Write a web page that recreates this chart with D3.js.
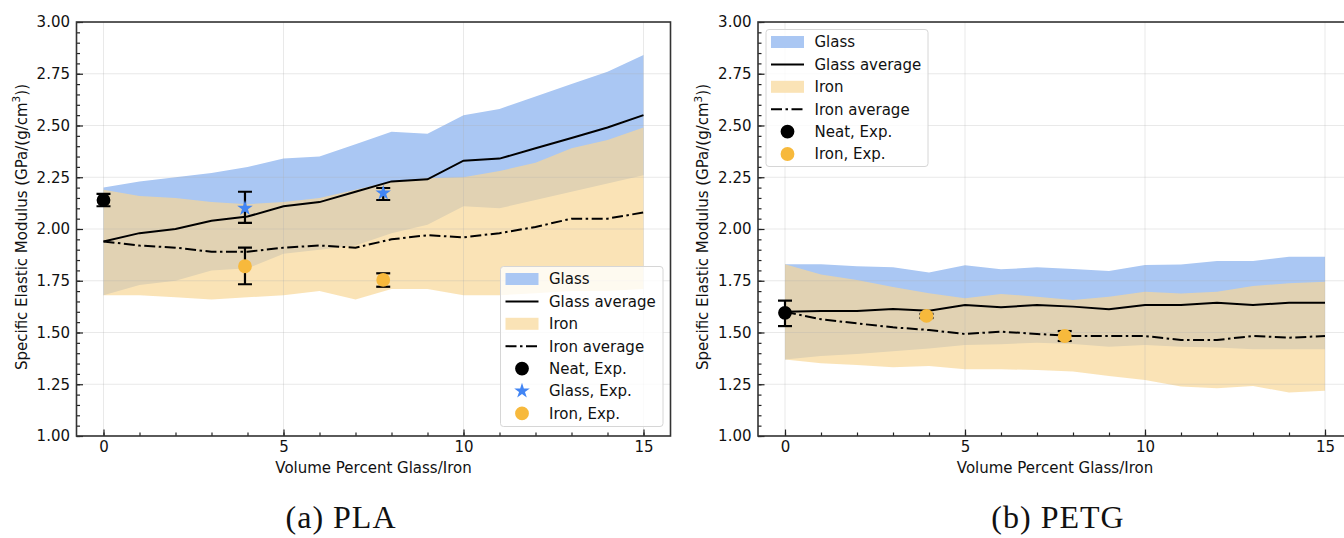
<!DOCTYPE html>
<html>
<head>
<meta charset="utf-8">
<script src="https://cdn.jsdelivr.net/npm/d3@7"></script>
<style>
  body { margin: 0; background: #fff; }
  text { font-family: "DejaVu Sans", sans-serif; fill: #111; }
</style>
</head>
<body>
<svg id="chart" width="1344" height="538"></svg>
<script>
// ---- data: specific elastic modulus, GPa/(g/cm^3) ----
const volumePct = [0, 1, 2, 3, 4, 5, 6, 7, 8, 9, 10, 11, 12, 13, 14, 15];

// PLA
const plaGlassUpper = [2.20, 2.23, 2.25, 2.27, 2.30, 2.34, 2.35, 2.41, 2.47, 2.46, 2.55, 2.58, 2.64, 2.70, 2.76, 2.84];
const plaGlassLower = [1.68, 1.73, 1.75, 1.80, 1.81, 1.88, 1.90, 1.92, 1.98, 2.02, 2.11, 2.10, 2.14, 2.18, 2.22, 2.26];
const plaGlassAvg   = [1.94, 1.98, 2.00, 2.04, 2.06, 2.11, 2.13, 2.18, 2.23, 2.24, 2.33, 2.34, 2.39, 2.44, 2.49, 2.55];
const plaIronUpper  = [2.19, 2.16, 2.15, 2.13, 2.12, 2.13, 2.15, 2.19, 2.23, 2.245, 2.25, 2.28, 2.32, 2.39, 2.43, 2.49];
const plaIronLower  = [1.68, 1.68, 1.67, 1.66, 1.67, 1.68, 1.70, 1.66, 1.71, 1.71, 1.68, 1.68, 1.69, 1.70, 1.70, 1.71];
const plaIronAvg    = [1.94, 1.92, 1.91, 1.89, 1.89, 1.91, 1.92, 1.91, 1.95, 1.97, 1.96, 1.98, 2.01, 2.05, 2.05, 2.08];

// PETG
const petgGlassUpper = [1.83, 1.83, 1.82, 1.815, 1.79, 1.825, 1.805, 1.815, 1.807, 1.797, 1.826, 1.829, 1.845, 1.845, 1.866, 1.866];
const petgGlassLower = [1.37, 1.386, 1.396, 1.41, 1.423, 1.44, 1.443, 1.451, 1.444, 1.431, 1.44, 1.431, 1.428, 1.419, 1.419, 1.419];
const petgGlassAvg   = [1.60, 1.604, 1.604, 1.614, 1.605, 1.633, 1.622, 1.633, 1.625, 1.612, 1.633, 1.633, 1.644, 1.633, 1.644, 1.644];
const petgIronUpper  = [1.83, 1.78, 1.754, 1.72, 1.69, 1.665, 1.686, 1.673, 1.657, 1.673, 1.697, 1.689, 1.697, 1.725, 1.738, 1.745];
const petgIronLower  = [1.37, 1.351, 1.343, 1.332, 1.338, 1.322, 1.322, 1.319, 1.311, 1.29, 1.271, 1.239, 1.231, 1.242, 1.21, 1.219];
const petgIronAvg    = [1.60, 1.564, 1.544, 1.525, 1.512, 1.493, 1.504, 1.493, 1.483, 1.483, 1.483, 1.464, 1.464, 1.483, 1.475, 1.483];

// experimental measurements (value with lower / upper error bounds)
const plaNeatExp  = { x: [0],          y: [2.14],         lo: [2.11],         hi: [2.17] };
const plaGlassExp = { x: [3.93, 7.77], y: [2.10, 2.174],  lo: [2.03, 2.14],   hi: [2.18, 2.198] };
const plaIronExp  = { x: [3.93, 7.77], y: [1.82, 1.754],  lo: [1.733, 1.721], hi: [1.91, 1.786] };
const petgNeatExp = { x: [0],          y: [1.595],        lo: [1.531],        hi: [1.654] };
const petgIronExp = { x: [3.93, 7.77], y: [1.58, 1.483],  lo: [1.57, 1.459],  hi: [1.59, 1.507] };

// axes
const xTicks = [0, 5, 10, 15];
const xMinorTicks = [0, 1, 2, 3, 4, 5, 6, 7, 8, 9, 10, 11, 12, 13, 14, 15];
const yTicks = [1.00, 1.25, 1.50, 1.75, 2.00, 2.25, 2.50, 2.75, 3.00];
const yMinorTicks = d3.range(100, 301, 5).map(v => v / 100);
const xLabel = "Volume Percent Glass/Iron";
const yLabel = "Specific Elastic Modulus (GPa/(g/cm";
const captions = ["(a) PLA", "(b) PETG"];

// ---- styling ----
const GLASS_FILL = "rgb(170,199,243)";
const IRON_FILL = "rgba(248,215,151,0.7)";
const GLASS_MARK = "#4285f4";
const IRON_MARK = "#f7b93c";
const TOP = 22, BOTTOM = 436;
const FS = 15;

const svg = d3.select("#chart");
svg.append("rect").attr("width", 1344).attr("height", 538).attr("fill", "#fff");

function zipBand(lo, hi) {
  return volumePct.map((v, i) => ({ x: v, lo: lo[i], hi: hi[i] }));
}
function zipLine(vals) {
  return volumePct.map((v, i) => ({ x: v, y: vals[i] }));
}

function drawPanel(p) {
  const x = d3.scaleLinear().domain([-0.75, 15.75]).range([p.x0, p.x1]);
  const y = d3.scaleLinear().domain([1, 3]).range([BOTTOM, TOP]);
  const g = svg.append("g");

  const clipId = "clip-" + p.id;
  g.append("clipPath").attr("id", clipId)
    .append("rect").attr("x", p.x0).attr("y", TOP)
    .attr("width", p.x1 - p.x0).attr("height", BOTTOM - TOP);
  const plot = g.append("g").attr("clip-path", `url(#${clipId})`);

  const area = d3.area().x(d => x(d.x)).y0(d => y(d.lo)).y1(d => y(d.hi));
  plot.append("path").datum(zipBand(p.glassLower, p.glassUpper))
    .attr("d", area).attr("fill", GLASS_FILL);
  plot.append("path").datum(zipBand(p.ironLower, p.ironUpper))
    .attr("d", area).attr("fill", IRON_FILL);

  // grid (sits above the bands, below the lines)
  plot.selectAll(".gx").data(xTicks).join("line")
    .attr("x1", d => x(d)).attr("x2", d => x(d))
    .attr("y1", TOP).attr("y2", BOTTOM)
    .attr("stroke", "#b0b0b0").attr("stroke-opacity", 0.28).attr("stroke-width", 1);
  plot.selectAll(".gy").data(yTicks).join("line")
    .attr("x1", p.x0).attr("x2", p.x1)
    .attr("y1", d => y(d)).attr("y2", d => y(d))
    .attr("stroke", "#b0b0b0").attr("stroke-opacity", 0.28).attr("stroke-width", 1);

  const line = d3.line().x(d => x(d.x)).y(d => y(d.y));
  plot.append("path").datum(zipLine(p.glassAvg))
    .attr("d", line).attr("fill", "none").attr("stroke", "#000").attr("stroke-width", 2);
  plot.append("path").datum(zipLine(p.ironAvg))
    .attr("d", line).attr("fill", "none").attr("stroke", "#000").attr("stroke-width", 2)
    .attr("stroke-dasharray", "11,3.5,2.5,3.5");

  // experimental points with error bars
  function errorSet(set, symbolType, color, size) {
    const pts = set.x.map((v, i) => ({ x: v, y: set.y[i], lo: set.lo[i], hi: set.hi[i] }));
    const eb = plot.append("g").attr("stroke", "#000").attr("stroke-width", 2.2);
    pts.forEach(d => {
      eb.append("line").attr("x1", x(d.x)).attr("x2", x(d.x)).attr("y1", y(d.lo)).attr("y2", y(d.hi));
      [d.lo, d.hi].forEach(v => eb.append("line")
        .attr("x1", x(d.x) - 7).attr("x2", x(d.x) + 7).attr("y1", y(v)).attr("y2", y(v)));
    });
    plot.selectAll(null).data(pts).join("path")
      .attr("transform", d => `translate(${x(d.x)},${y(d.y)})`)
      .attr("d", d3.symbol().type(symbolType).size(size))
      .attr("fill", color);
  }
  p.exp.forEach(e => errorSet(e.data, e.symbol, e.color, e.size));

  // ticks (pointing inward)
  g.append("g").attr("transform", `translate(0,${BOTTOM})`)
    .call(d3.axisBottom(x).tickValues(xTicks).tickSize(-6.5).tickPadding(5).tickFormat(d3.format("d")));
  g.append("g").attr("transform", `translate(0,${BOTTOM})`)
    .call(d3.axisBottom(x).tickValues(xMinorTicks).tickSize(-3.5).tickFormat(""));
  g.append("g").attr("transform", `translate(${p.x0},0)`)
    .call(d3.axisLeft(y).tickValues(yTicks).tickSize(-6.5).tickPadding(6.5).tickFormat(d3.format(".2f")));
  g.append("g").attr("transform", `translate(${p.x0},0)`)
    .call(d3.axisLeft(y).tickValues(yMinorTicks).tickSize(-3.5).tickFormat(""));
  g.selectAll(".domain").remove();
  g.selectAll(".tick line").attr("stroke", "#222").attr("stroke-width", 1.2);
  g.selectAll(".tick text").attr("font-size", FS).attr("fill", "#111")
    .attr("font-family", "DejaVu Sans, sans-serif");

  // frame
  g.append("rect").attr("x", p.x0).attr("y", TOP)
    .attr("width", p.x1 - p.x0).attr("height", BOTTOM - TOP)
    .attr("fill", "none").attr("stroke", "#333").attr("stroke-width", 1.6);

  // axis titles
  g.append("text").attr("x", p.x0 + 297).attr("y", 472.5)
    .attr("text-anchor", "middle").attr("font-size", FS).text(xLabel);
  const yl = g.append("text")
    .attr("transform", `translate(${p.x0 - 50},227) rotate(-90)`)
    .attr("text-anchor", "middle").attr("font-size", FS);
  yl.append("tspan").text(yLabel);
  yl.append("tspan").attr("font-size", 10.5).attr("dy", -6.5).text("3");
  yl.append("tspan").attr("dy", 6.5).text("))");

  // caption
  svg.append("text").attr("x", p.capX).attr("y", 528)
    .attr("text-anchor", "middle")
    .style("font-family", "'Liberation Serif', serif")
    .style("font-size", "32px").style("letter-spacing", "1px")
    .style("fill", "#111").text(p.caption);

  // legend
  const L = p.legend;
  const lg = g.append("g");
  lg.append("rect").attr("x", L.x).attr("y", L.y).attr("width", L.w).attr("height", L.h)
    .attr("rx", 3).attr("fill", "#fff").attr("fill-opacity", 0.8)
    .attr("stroke", "#d6d6d6").attr("stroke-width", 1);
  L.rows.forEach((r, i) => {
    const cy = L.y + 12.5 + i * 22.4;
    const hx = L.x + 5;
    if (r.kind === "patch") {
      lg.append("rect").attr("x", hx).attr("y", cy - 6).attr("width", 33).attr("height", 12)
        .attr("fill", r.fill);
    } else if (r.kind === "line") {
      lg.append("line").attr("x1", hx).attr("x2", hx + 33).attr("y1", cy).attr("y2", cy)
        .attr("stroke", "#000").attr("stroke-width", 2)
        .attr("stroke-dasharray", r.dash || null);
    } else {
      lg.append("path").attr("transform", `translate(${hx + 16.5},${cy})`)
        .attr("d", d3.symbol().type(r.symbol).size(r.size)).attr("fill", r.fill);
    }
    lg.append("text").attr("x", L.x + 48.5).attr("y", cy).attr("dy", "0.36em")
      .attr("font-size", FS).text(r.label);
  });
}

const legendCommon = [
  { kind: "patch", fill: GLASS_FILL, label: "Glass" },
  { kind: "line", label: "Glass average" },
  { kind: "patch", fill: IRON_FILL, label: "Iron" },
  { kind: "line", dash: "11,3.5,2.5,3.5", label: "Iron average" },
  { kind: "marker", symbol: d3.symbolCircle, size: 150, fill: "#000", label: "Neat, Exp." }
];

drawPanel({
  id: "pla", x0: 76.5, x1: 670.5, capX: 341, caption: captions[0],
  glassUpper: plaGlassUpper, glassLower: plaGlassLower, glassAvg: plaGlassAvg,
  ironUpper: plaIronUpper, ironLower: plaIronLower, ironAvg: plaIronAvg,
  exp: [
    { data: plaNeatExp, symbol: d3.symbolCircle, color: "#000", size: 150 },
    { data: plaGlassExp, symbol: d3.symbolStar, color: GLASS_MARK, size: 75 },
    { data: plaIronExp, symbol: d3.symbolCircle, color: IRON_MARK, size: 150 }
  ],
  legend: {
    x: 500.5, y: 266.5, w: 162.5, h: 160,
    rows: legendCommon.concat([
      { kind: "marker", symbol: d3.symbolStar, size: 75, fill: GLASS_MARK, label: "Glass, Exp." },
      { kind: "marker", symbol: d3.symbolCircle, size: 150, fill: IRON_MARK, label: "Iron, Exp." }
    ])
  }
});

drawPanel({
  id: "petg", x0: 758, x1: 1352, capX: 1058, caption: captions[1],
  glassUpper: petgGlassUpper, glassLower: petgGlassLower, glassAvg: petgGlassAvg,
  ironUpper: petgIronUpper, ironLower: petgIronLower, ironAvg: petgIronAvg,
  exp: [
    { data: petgNeatExp, symbol: d3.symbolCircle, color: "#000", size: 150 },
    { data: petgIronExp, symbol: d3.symbolCircle, color: IRON_MARK, size: 150 }
  ],
  legend: {
    x: 766, y: 29.5, w: 162, h: 137,
    rows: legendCommon.concat([
      { kind: "marker", symbol: d3.symbolCircle, size: 150, fill: IRON_MARK, label: "Iron, Exp." }
    ])
  }
});
</script>
</body>
</html>
